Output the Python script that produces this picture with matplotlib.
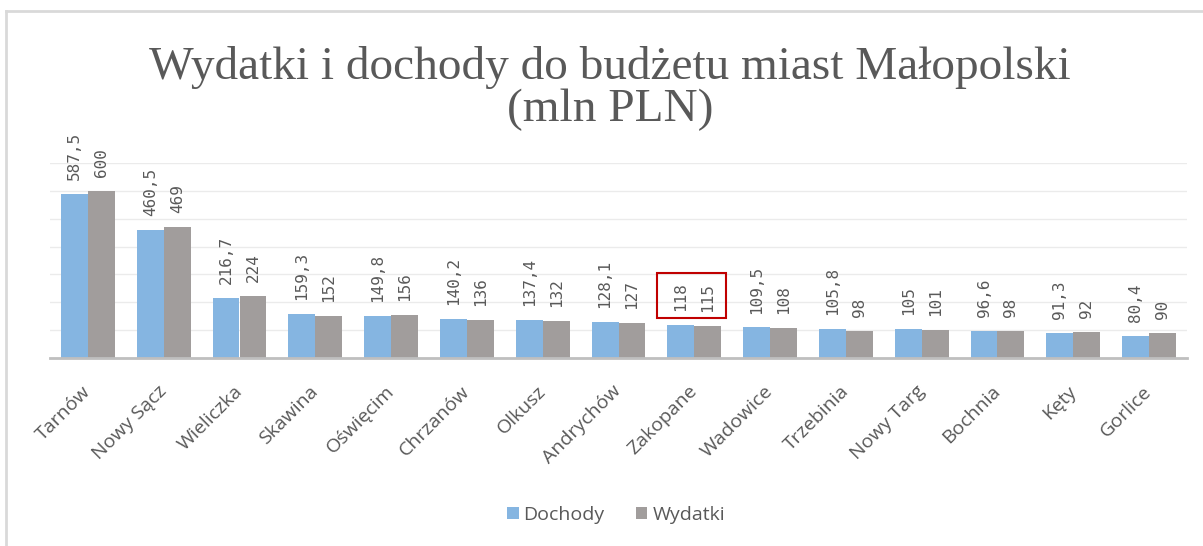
import numpy as np
import matplotlib
matplotlib.use('Agg')
import matplotlib.pyplot as plt
from matplotlib.patches import Rectangle
from matplotlib.lines import Line2D

cities = ['Tarnów', 'Nowy Sącz', 'Wieliczka', 'Skawina', 'Oświęcim', 'Chrzanów', 'Olkusz',
          'Andrychów', 'Zakopane', 'Wadowice', 'Trzebinia', 'Nowy Targ', 'Bochnia', 'Kęty', 'Gorlice']
dochody = [587.5, 460.5, 216.7, 159.3, 149.8, 140.2, 137.4, 128.1, 118, 109.5, 105.8, 105, 96.6, 91.3, 80.4]
wydatki = [600, 469, 224, 152, 156, 136, 132, 127, 115, 108, 98, 101, 98, 92, 90]
highlight = 'Zakopane'

blue = '#85B5E1'
grey = '#A19D9C'
text_col = '#595959'

W, H = 1203, 546
fig = plt.figure(figsize=(W / 100, H / 100), dpi=100)

# chart border (the screenshot is cut on the right and bottom)
fig.add_artist(Line2D([6 / W, 1], [1 - 11 / H] * 2, color='#D9D9D9', lw=2))
fig.add_artist(Line2D([6 / W] * 2, [0, 1 - 11 / H], color='#D9D9D9', lw=2))

title_font = dict(ha='center', va='baseline', fontsize=34, family='Liberation Serif', color=text_col)
fig.text(610 / W, 1 - 79 / H, 'Wydatki i dochody do budżetu miast Małopolski', **title_font)
fig.text(610 / W, 1 - 121 / H, '(mln PLN)', **title_font)

ax = fig.add_axes([50 / W, 1 - 358 / H, 1137 / W, 195 / H])
x = np.arange(len(cities))
bw = 0.356
b1 = ax.bar(x - bw / 2, dochody, bw, color=blue, label='Dochody', zorder=2)
b2 = ax.bar(x + bw / 2, wydatki, bw, color=grey, label='Wydatki', zorder=2)

ax.set_xlim(-0.5, len(cities) - 0.5)
ax.set_ylim(0, 700)
ax.set_yticks(np.arange(0, 701, 100))
ax.yaxis.grid(True, color='#EBEBEB', lw=1, zorder=0)
ax.tick_params(axis='y', left=False, labelleft=False)
for s in ['top', 'right', 'left']:
    ax.spines[s].set_visible(False)
ax.spines['bottom'].set_color('#BFBFBF')
ax.spines['bottom'].set_linewidth(2)
ax.spines['bottom'].set_zorder(3)

ax.set_xticks(x)
ax.set_xticklabels(cities, rotation=45, ha='right', va='center', rotation_mode='anchor',
                   fontsize=14, family='Open Sans', color=text_col)
ax.tick_params(axis='x', length=0, pad=22)


def fmt(v):
    return f'{v:g}'.replace('.', ',')


labels = {}
for bars, vals in [(b1, dochody), (b2, wydatki)]:
    for i, (rect, v) in enumerate(zip(bars, vals)):
        t = ax.annotate(fmt(v), (rect.get_x() + rect.get_width() / 2, v),
                        xytext=(0, 10), textcoords='offset points',
                        rotation=90, ha='center', va='bottom',
                        fontsize=11.5, family='DejaVu Sans Mono', color=text_col)
        labels.setdefault(cities[i], []).append(t)

leg = ax.legend(loc='center', bbox_to_anchor=(616 / W, 1 - 515 / H), bbox_transform=fig.transFigure,
                ncol=2, frameon=False, handlelength=0.6, handleheight=0.6, handletextpad=0.25,
                columnspacing=1.6, prop={'family': 'Open Sans', 'size': 14})
for t in leg.get_texts():
    t.set_color(text_col)

# red box around the highlighted labels
fig.canvas.draw()
r = fig.canvas.get_renderer()
bb = [t.get_window_extent(r) for t in labels[highlight]]
x0 = min(b.x0 for b in bb) - 16
x1 = max(b.x1 for b in bb) + 11
y0 = min(b.y0 for b in bb) - 6
y1 = max(b.y1 for b in bb) + 9
inv = fig.transFigure.inverted()
(fx0, fy0), (fx1, fy1) = inv.transform([(x0, y0), (x1, y1)])
fig.add_artist(Rectangle((fx0, fy0), fx1 - fx0, fy1 - fy0, fill=False,
                         edgecolor='#C00000', lw=1.5, transform=fig.transFigure))

fig.savefig('out.png', dpi=100)
